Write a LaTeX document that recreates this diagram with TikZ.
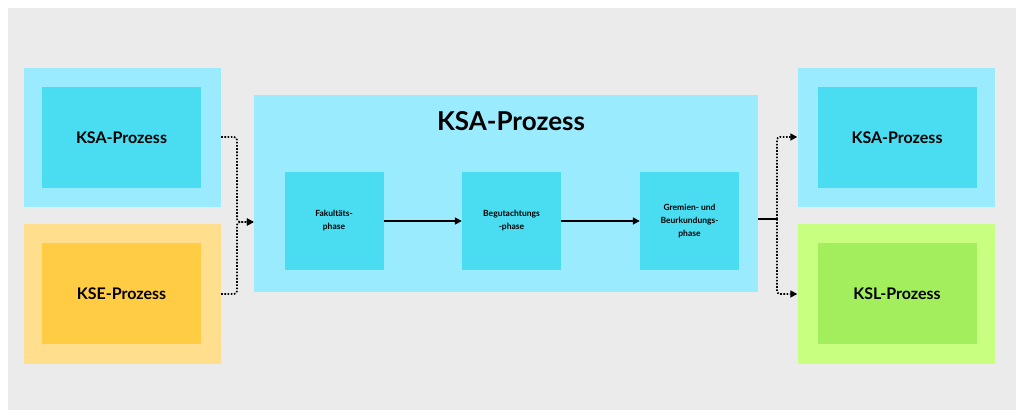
\documentclass[tikz,border=0pt]{standalone}
\usepackage{fontspec}
\setmainfont{Lato}
\usetikzlibrary{arrows.meta,positioning}
\definecolor{bgGray}{HTML}{EBEBEB}
\definecolor{ksaLight}{HTML}{9BEBFF}
\definecolor{ksaDark}{HTML}{4ADDF2}
\definecolor{kseLight}{HTML}{FFDF8E}
\definecolor{kseDark}{HTML}{FFCC44}
\definecolor{kslLight}{HTML}{C8FF80}
\definecolor{kslDark}{HTML}{A2EE5C}
\begin{document}
\begin{tikzpicture}[
  x=1pt, y=-1pt,
  outer/.style={draw=none, minimum width=197pt, minimum height=139pt, inner sep=0pt},
  inner/.style={draw=none, minimum width=159pt, minimum height=101pt, inner sep=0pt, font=\bfseries\fontsize{16}{18}\selectfont},
  phase/.style={draw=none, fill=ksaDark, minimum width=99pt, minimum height=98pt, inner sep=0pt, align=center, font=\bfseries\fontsize{8.5}{13}\selectfont},
  arr/.style={-{Triangle[length=7pt,width=7pt]}, line width=1.6pt},
  dotarr/.style={-{Triangle[length=7pt,width=7pt]}, line width=1.6pt, dash pattern=on 1.6pt off 1.6pt, rounded corners=3pt},
]
  \useasboundingbox (0,0) rectangle (1024,419);
  \fill[white] (0,0) rectangle (1024,419);
  \fill[bgGray] (8,8) rectangle (1016,410);

  % left side
  \node[outer, fill=ksaLight] (ksaInOuter) at (122.5,137.5) {};
  \node[inner, fill=ksaDark] (ksaIn) at (121.5,137.5) {KSA-Prozess};
  \node[outer, fill=kseLight] (kseOuter) at (122.5,294) {};
  \node[inner, fill=kseDark] (kse) at (121.5,293.5) {KSE-Prozess};

  % main process
  \node[draw=none, fill=ksaLight, minimum width=504pt, minimum height=197pt, inner sep=0pt] (main) at (506,193.5) {};
  \node[font=\bfseries\fontsize{26}{30}\selectfont] (mainTitle) at (511,121) {KSA-Prozess};
  \node[phase] (fak) at (334,221) {Fakultäts-\\phase};
  \node[phase] (beg) at (511.5,221) {Begutachtungs\\-phase};
  \node[phase] (gre) at (689.5,221) {Gremien- und\\Beurkundungs-\\phase};
  \draw[arr] (fak) -- (beg);
  \draw[arr] (beg) -- (gre);

  % right side
  \node[outer, fill=ksaLight] (ksaOutOuter) at (896,137.5) {};
  \node[inner, fill=ksaDark] (ksaOut) at (897,137.5) {KSA-Prozess};
  \node[outer, fill=kslLight] (kslOuter) at (896,294) {};
  \node[inner, fill=kslDark] (ksl) at (897,293.5) {KSL-Prozess};

  % connectors
  \coordinate (joinL) at (237,222);
  \coordinate (joinR) at (777,219);
  \draw[dotarr] (ksaInOuter.east |- 0,137) -- (237,137) -- (joinL) -- (main.west |- joinL);
  \draw[dotarr] (kseOuter.east |- 0,294) -- (237,294) -- (joinL) -- (main.west |- joinL);
  \draw[line width=1.6pt] (main.east |- joinR) -- (joinR);
  \draw[dotarr] (joinR) -- (777,137) -- (ksaOutOuter.west |- 0,137);
  \draw[dotarr] (joinR) -- (777,294) -- (kslOuter.west |- 0,294);
\end{tikzpicture}
\end{document}
